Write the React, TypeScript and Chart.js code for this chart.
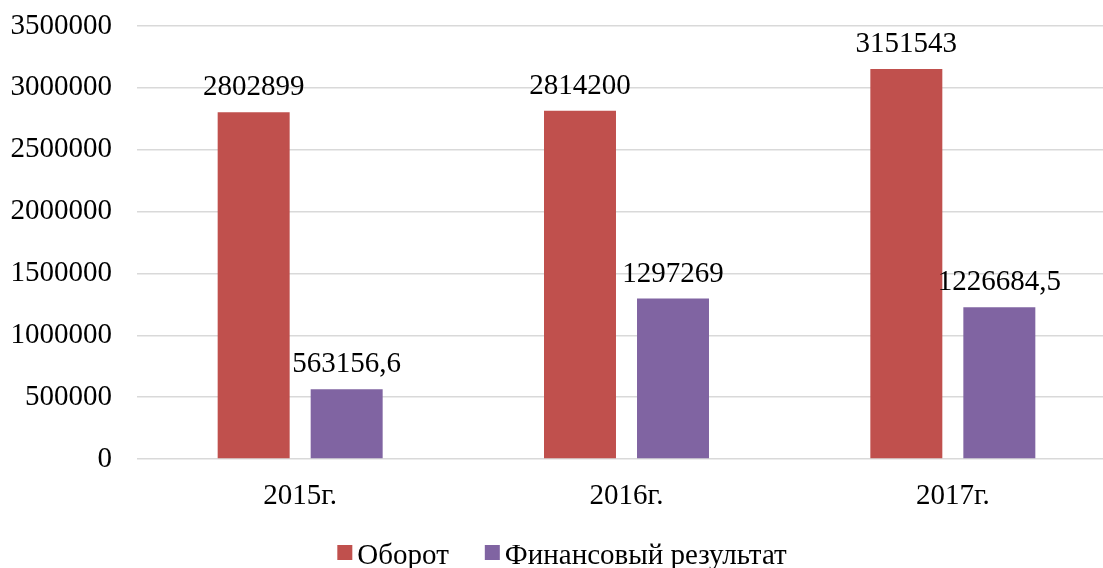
import React, { useEffect, useRef } from "react";
import { Chart, registerables } from "chart.js";

Chart.register(...registerables);

const categories = ["2015г.", "2016г.", "2017г."];
const turnover = [2802899, 2814200, 3151543];
const finResult = [563156.6, 1297269, 1226684.5];
const seriesNames = ["Оборот", "Финансовый результат"];
const yTicks = [0, 500000, 1000000, 1500000, 2000000, 2500000, 3000000, 3500000];

const FONT = "'Liberation Serif', 'Times New Roman', serif";
const COLORS = ["#C0504D", "#8064A2"];

const fmt = (v: number) => String(v).replace(".", ",");

const labelPlugin = {
  id: "barLabels",
  afterDatasetsDraw(chart: any) {
    const ctx = chart.ctx;
    ctx.save();
    ctx.font = `29px ${FONT}`;
    ctx.fillStyle = "#000";
    ctx.textAlign = "center";
    ctx.textBaseline = "alphabetic";
    chart.data.datasets.forEach((ds: any, di: number) => {
      const meta = chart.getDatasetMeta(di);
      meta.data.forEach((bar: any, i: number) => {
        ctx.fillText(fmt(ds.data[i]), bar.x, bar.y - 17);
      });
    });
    ctx.restore();
  },
};

const legendPlugin = {
  id: "customLegend",
  afterDraw(chart: any) {
    const ctx = chart.ctx;
    ctx.save();
    ctx.font = `29px ${FONT}`;
    const box = 15;
    const gap = 5;
    const spacing = 36;
    const widths = seriesNames.map((n) => ctx.measureText(n).width);
    const total = widths.reduce((a, w) => a + box + gap + w, 0) + spacing * (seriesNames.length - 1);
    let x = (chart.width - total) / 2 + 4;
    const boxTop = 545;
    const baseline = 564;
    ctx.textBaseline = "alphabetic";
    ctx.textAlign = "left";
    seriesNames.forEach((n, i) => {
      ctx.fillStyle = COLORS[i];
      ctx.fillRect(x, boxTop, box, box);
      x += box + gap;
      ctx.fillStyle = "#000";
      ctx.fillText(n, x, baseline);
      x += widths[i] + spacing;
    });
    ctx.restore();
  },
};

export default function App() {
  const ref = useRef<HTMLCanvasElement | null>(null);
  useEffect(() => {
    if (!ref.current) return;
    const chart = new Chart(ref.current, {
      type: "bar",
      data: {
        labels: categories,
        datasets: [
          {
            label: seriesNames[0],
            data: turnover,
            backgroundColor: COLORS[0],
            categoryPercentage: 0.57,
            barPercentage: 0.774,
          },
          {
            label: seriesNames[1],
            data: finResult,
            backgroundColor: COLORS[1],
            categoryPercentage: 0.57,
            barPercentage: 0.774,
          },
        ],
      },
      options: {
        responsive: false,
        animation: false,
        layout: { padding: { top: 26, right: 0, bottom: 0, left: 0 }, autoPadding: false },
        plugins: {
          legend: { display: false },
          tooltip: { enabled: false },
        },
        scales: {
          x: {
            grid: { display: false, drawTicks: false },
            border: { display: false },
            ticks: {
              color: "#000",
              font: { family: FONT, size: 29 },
              padding: 20,
            },
            afterFit: (scale: any) => {
              scale.height = 109;
              scale.paddingLeft = 0;
              scale.paddingRight = 0;
            },
          },
          y: {
            min: 0,
            max: 3500000,
            afterBuildTicks: (scale: any) => {
              scale.ticks = yTicks.map((v) => ({ value: v }));
            },
            grid: { color: "#d9d9d9", lineWidth: 1.5, drawTicks: false },
            border: { display: false },
            ticks: {
              color: "#000",
              font: { family: FONT, size: 29 },
              padding: 25,
              callback: (v: any) => String(v),
            },
            afterFit: (scale: any) => {
              scale.width = 137;
              scale.paddingTop = 0;
              scale.paddingBottom = 0;
            },
          },
        },
      },
      plugins: [labelPlugin, legendPlugin],
    });
    return () => chart.destroy();
  }, []);
  return (
    <div
      style={{
        position: "absolute",
        left: 0,
        top: 0,
        width: 1103,
        height: 568,
        overflow: "hidden",
        background: "#fff",
      }}
    >
      <canvas ref={ref} width={1116} height={568} style={{ display: "block" }} />
    </div>
  );
}
